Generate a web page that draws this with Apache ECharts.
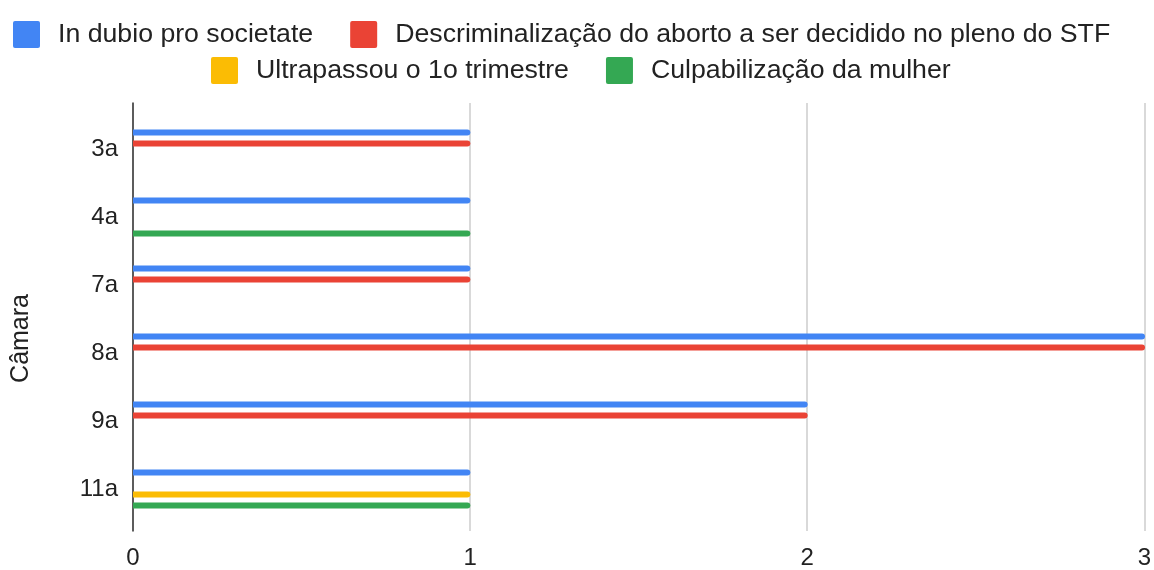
<!DOCTYPE html>
<html>
<head>
<meta charset="utf-8">
<title>Câmara</title>
<script src="https://cdn.jsdelivr.net/npm/echarts@6/dist/echarts.min.js"></script>
<style>
    html, body { margin: 0; padding: 0; background: #fff; }
    #chart { width: 1154px; height: 570px; }
</style>
</head>
<body>
<div id="chart"></div>
<script>
const categories = ["3a", "4a", "7a", "8a", "9a", "11a"];
const inDubio = [1, 1, 1, 3, 2, 1];
const descriminalizacao = [1, null, 1, 3, 2, null];
const ultrapassou = [null, null, null, null, null, 1];
const culpabilizacao = [null, 1, null, null, null, 1];
const xTicks = [0, 1, 2, 3];

const seriesNames = [
    "In dubio pro societate",
    "Descriminalização do aborto a ser decidido no pleno do STF",
    "Ultrapassou o 1o trimestre",
    "Culpabilização da mulher",
];
const colors = ["#4285F4", "#EA4335", "#FBBC04", "#34A853"];
const font = "'Liberation Sans', Arial, sans-serif";

// square with slightly rounded corners, like the sheets legend
const squareIcon =
    "path://M1.5,0 H18.5 A1.5,1.5 0 0 1 20,1.5 V18.5 A1.5,1.5 0 0 1 18.5,20 H1.5 A1.5,1.5 0 0 1 0,18.5 V1.5 A1.5,1.5 0 0 1 1.5,0 Z";

const chart = echarts.init(document.getElementById("chart"));

const legendBase = {
    icon: squareIcon,
    itemWidth: 27,
    itemHeight: 27,
    itemGap: 37,
    selectedMode: false,
    textStyle: {
        fontFamily: font,
        fontSize: 26.7,
        color: "#222",
        padding: [0, 0, 0, 13],
    },
};

function bar(i, data) {
    return {
        name: seriesNames[i],
        type: "bar",
        xAxisIndex: 1,
        yAxisIndex: 1,
        data: data,
        barWidth: 6,
        barGap: "83%",
        itemStyle: { color: colors[i], borderRadius: [0, 3, 3, 0] },
        animation: false,
    };
}

chart.setOption({
    color: colors,
    legend: [
        Object.assign({}, legendBase, { data: seriesNames.slice(0, 2), left: 8, top: 16 }),
        Object.assign({}, legendBase, { data: seriesNames.slice(2), left: 206, top: 52 }),
    ],
    grid: [
        // outer frame: gridlines, axis line, tick labels
        { left: 133, right: 9, top: 103, bottom: 37 },
        // bars
        { left: 133, right: 9, top: 115, bottom: 47 },
    ],
    xAxis: [
        {
            type: "value",
            gridIndex: 0,
            min: xTicks[0],
            max: xTicks[xTicks.length - 1],
            interval: 1,
            axisLine: { show: false },
            axisTick: { show: false },
            splitLine: { lineStyle: { color: "#ccc", width: 1.5 } },
            axisLabel: { fontFamily: font, fontSize: 24, color: "#222", margin: 15 },
        },
        {
            type: "value",
            gridIndex: 1,
            min: xTicks[0],
            max: xTicks[xTicks.length - 1],
            show: false,
        },
    ],
    yAxis: [
        {
            type: "value",
            gridIndex: 0,
            min: 0,
            max: 1,
            axisLine: { show: true, lineStyle: { color: "#333", width: 1.5 } },
            axisTick: { show: false },
            axisLabel: { show: false },
            splitLine: { show: false },
        },
        {
            type: "category",
            gridIndex: 1,
            data: categories,
            inverse: true,
            axisLine: { show: false },
            axisTick: { show: false },
            axisLabel: { fontFamily: font, fontSize: 24, color: "#222", margin: 15 },
        },
    ],
    graphic: [
        {
            type: "text",
            left: 9,
            top: 294,
            rotation: Math.PI / 2,
            style: { text: "Câmara", font: "25px " + font, fill: "#222" },
        },
    ],
    series: [
        bar(0, inDubio),
        bar(1, descriminalizacao),
        bar(2, ultrapassou),
        bar(3, culpabilizacao),
    ],
});
</script>
</body>
</html>
